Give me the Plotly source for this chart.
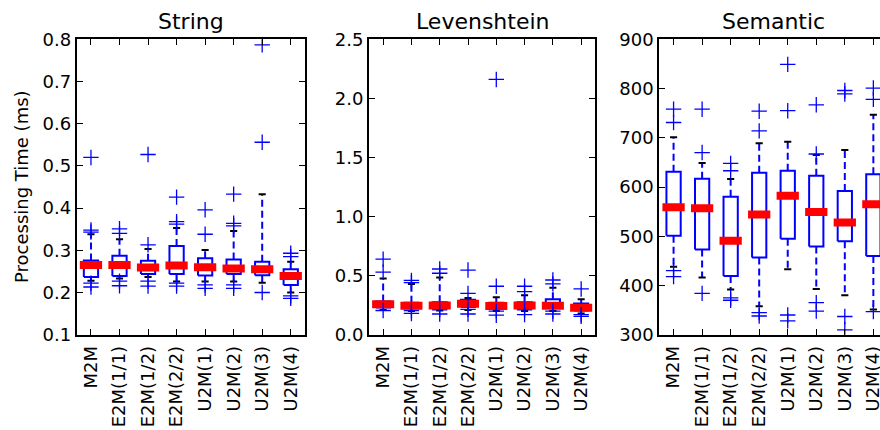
import plotly.graph_objects as go

categories = ["M2M", "E2M(1/1)", "E2M(1/2)", "E2M(2/2)", "U2M(1)", "U2M(2)", "U2M(3)", "U2M(4)"]
panel_titles = ["String", "Levenshtein", "Semantic"]

string_q1 = [0.237, 0.239, 0.244, 0.244, 0.240, 0.244, 0.241, 0.218]
string_med = [0.265, 0.265, 0.259, 0.264, 0.260, 0.257, 0.255, 0.239]
string_q3 = [0.276, 0.287, 0.275, 0.310, 0.281, 0.278, 0.273, 0.255]
string_lo = [0.228, 0.233, 0.237, 0.226, 0.226, 0.226, 0.223, 0.200]
string_hi = [0.338, 0.326, 0.303, 0.353, 0.301, 0.346, 0.433, 0.273]
string_fliers = [[0.520, 0.348, 0.343, 0.222, 0.213], [0.351, 0.340, 0.227, 0.216],
                 [0.527, 0.313, 0.227, 0.215], [0.426, 0.368, 0.362, 0.222, 0.215],
                 [0.396, 0.338, 0.218, 0.210], [0.433, 0.364, 0.358, 0.218, 0.210],
                 [0.787, 0.556, 0.200], [0.293, 0.285, 0.192, 0.186]]

lev_q1 = [0.230, 0.225, 0.225, 0.235, 0.220, 0.225, 0.225, 0.205]
lev_med = [0.257, 0.245, 0.248, 0.262, 0.243, 0.248, 0.245, 0.229]
lev_q3 = [0.280, 0.270, 0.275, 0.295, 0.270, 0.275, 0.300, 0.265]
lev_lo = [0.210, 0.200, 0.205, 0.210, 0.200, 0.200, 0.200, 0.180]
lev_hi = [0.475, 0.430, 0.485, 0.310, 0.316, 0.333, 0.398, 0.300]
lev_fliers = [[0.64, 0.53, 0.205], [0.46, 0.44, 0.205, 0.18], [0.556, 0.52, 0.21, 0.175],
              [0.547, 0.35, 0.215, 0.175], [2.16, 0.41, 0.2, 0.165], [0.41, 0.364, 0.21, 0.17],
              [0.463, 0.43, 0.2, 0.175], [0.387, 0.17, 0.155]]

sem_q1 = [501, 473, 419, 457, 495, 479, 490, 460]
sem_med = [559, 557, 491, 544, 582, 549, 528, 565]
sem_q3 = [631, 617, 580, 629, 633, 623, 592, 626]
sem_lo = [438, 416, 392, 358, 433, 393, 380, 351]
sem_hi = [701, 649, 616, 689, 692, 665, 675, 747]
sem_fliers = [[758, 731, 430, 418], [758, 670, 384], [648, 633, 375, 370], [754, 714, 345, 338],
              [849, 755, 340, 328], [767, 667, 365, 348], [796, 789, 337, 310], [801, 778, 347]]

y_ranges = [[0.1, 0.8], [0.0, 2.5], [300, 900]]
y_dticks = [0.1, 0.5, 100]
y_formats = [".1f", ".1f", "d"]

panels = [
    (string_q1, string_med, string_q3, string_lo, string_hi, string_fliers),
    (lev_q1, lev_med, lev_q3, lev_lo, lev_hi, lev_fliers),
    (sem_q1, sem_med, sem_q3, sem_lo, sem_hi, sem_fliers),
]

W, H = 880, 430
px_unit = 28.54


def fx_(v):
    return v / W


def fy_(v):
    return 1 - v / H


x_dom = [[fx_(76.7), fx_(305)], [fx_(369), fx_(595.3)], [fx_(659.3), 1.0]]
x_rng = [[0.5, 8.5], [0.5, 8.5], [0.5, 0.5 + (W - 659.3) / px_unit]]
y_dom = [fy_(334.7), fy_(39.3)]

FONT = "DejaVu Sans"
BLUE = "#0000ff"
fig = go.Figure()

bw = 0.25    # half box width
cw = 0.125   # half cap width
mw = 0.25 + 4 / px_unit  # median half width (projecting caps)

for i, (q1, med, q3, lo, hi, fl) in enumerate(panels):
    xa = "x" if i == 0 else f"x{i+1}"
    ya = "y" if i == 0 else f"y{i+1}"
    wx, wy, cx, cy, bx, by, mx, my, px, py = [], [], [], [], [], [], [], [], [], []
    for k in range(len(categories)):
        c = k + 1
        wx += [c, c, None, c, c, None]
        wy += [q3[k], hi[k], None, q1[k], lo[k], None]
        cx += [c - cw, c + cw, None, c - cw, c + cw, None]
        cy += [hi[k], hi[k], None, lo[k], lo[k], None]
        bx += [c - bw, c + bw, c + bw, c - bw, c - bw, None]
        by += [q1[k], q1[k], q3[k], q3[k], q1[k], None]
        mx += [c - mw, c + mw, None]
        my += [med[k], med[k], None]
        for v in fl[k]:
            px.append(c)
            py.append(v)
    common = dict(xaxis=xa, yaxis=ya, showlegend=False, hoverinfo="skip")
    fig.add_trace(go.Scatter(x=wx, y=wy, mode="lines",
                             line=dict(color=BLUE, width=2, dash="7px,4px"), **common))
    fig.add_trace(go.Scatter(x=cx, y=cy, mode="lines",
                             line=dict(color="black", width=2), **common))
    fig.add_trace(go.Scatter(x=bx, y=by, mode="lines",
                             line=dict(color=BLUE, width=2), **common))
    fig.add_trace(go.Scatter(x=mx, y=my, mode="lines",
                             line=dict(color="#ff0000", width=8), **common))
    fig.add_trace(go.Scatter(x=px, y=py, mode="markers",
                             marker=dict(symbol="cross-thin-open", size=11, color=BLUE,
                                         line=dict(color=BLUE, width=1.3)), **common))

axis_common = dict(showline=True, linecolor="black", linewidth=2, ticks="inside",
                   ticklen=6, tickwidth=1.2, tickcolor="black", showgrid=False,
                   zeroline=False, automargin=False,
                   tickfont=dict(family=FONT, size=18, color="black"))

layout = dict(width=W, height=H, margin=dict(l=0, r=0, t=0, b=0),
              paper_bgcolor="white", plot_bgcolor="white")

for i in range(3):
    sx = "" if i == 0 else str(i + 1)
    layout[f"xaxis{sx}"] = dict(domain=x_dom[i], range=x_rng[i], anchor=f"y{sx}",
                                tickmode="array", tickvals=list(range(1, len(categories) + 1)),
                                ticktext=categories, tickangle=-90, mirror="ticks",
                                ticklabelstandoff=2, ticklabeloverflow="allow", **axis_common)
    layout[f"yaxis{sx}"] = dict(domain=y_dom, range=y_ranges[i], anchor=f"x{sx}",
                                dtick=y_dticks[i], tick0=y_ranges[i][0], tickformat=y_formats[i],
                                mirror=("ticks" if i < 2 else False), **axis_common)

annotations = []
for i in range(3):
    annotations.append(dict(text=panel_titles[i], xref="paper", yref="paper",
                            x=x_dom[i][0] + 4 * px_unit / W,
                            y=fy_(21), xanchor="center", yanchor="middle", showarrow=False,
                            font=dict(family=FONT, size=22, color="black")))
annotations.append(dict(text="Processing Time (ms)", xref="paper", yref="paper",
                        x=fx_(21), y=(y_dom[0] + y_dom[1]) / 2, textangle=-90,
                        xanchor="center", yanchor="middle", showarrow=False,
                        font=dict(family=FONT, size=18, color="black")))
layout["annotations"] = annotations

fig.update_layout(**layout)
fig.write_html(
    "out.html",
    config={"displayModeBar": False},
    post_script="document.body.style.margin='0px';document.body.style.overflow='hidden';",
)
